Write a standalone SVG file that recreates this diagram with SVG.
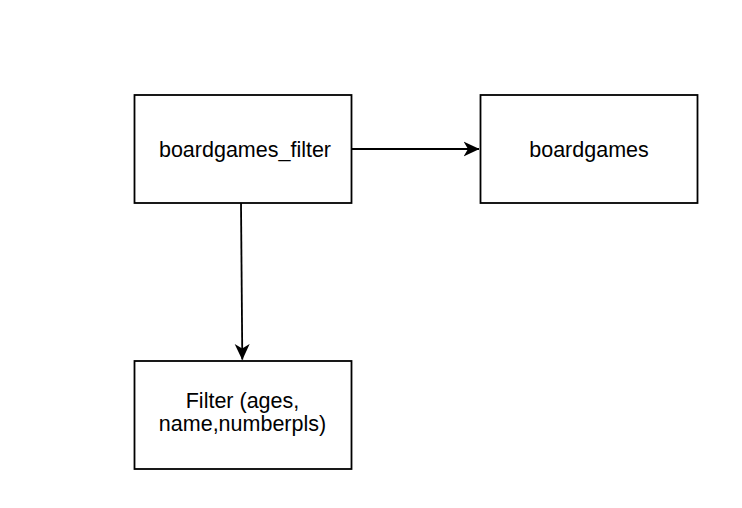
<svg xmlns="http://www.w3.org/2000/svg" width="742" height="508" viewBox="0 0 742 508">
<style>
.box{fill:#ffffff;stroke:#000000;stroke-width:1.8}
.lbl{font-family:"Liberation Sans",Arial,sans-serif;font-size:21.5px;fill:#000000;text-anchor:middle}
.edge{fill:none;stroke:#000000;stroke-width:1.8}
</style>
<defs>
<marker id="arr" viewBox="0 0 16 16" refX="15.5" refY="8" markerWidth="16" markerHeight="16" markerUnits="userSpaceOnUse" orient="auto">
<path d="M0,0.5 L16,8 L0,15.5 L4.5,8 Z" fill="#000000"/>
</marker>
</defs>
<rect width="742" height="508" fill="#ffffff"/>
<g id="connectors">
<path class="edge" d="M352,149 L479,149" marker-end="url(#arr)"/>
<path class="edge" d="M241,203 L242.3,359.5" marker-end="url(#arr)"/>
</g>
<g id="boardgames_filter">
<rect class="box" x="134.5" y="95" width="217" height="108"/>
<text class="lbl" x="245" y="157">boardgames_filter</text>
</g>
<g id="boardgames">
<rect class="box" x="480.5" y="95" width="217" height="108"/>
<text class="lbl" x="589" y="157">boardgames</text>
</g>
<g id="filter">
<rect class="box" x="134.5" y="361" width="217" height="108"/>
<text class="lbl" x="242.5" y="407.5">Filter (ages,</text>
<text class="lbl" x="242.5" y="431">name,numberpls)</text>
</g>
</svg>
